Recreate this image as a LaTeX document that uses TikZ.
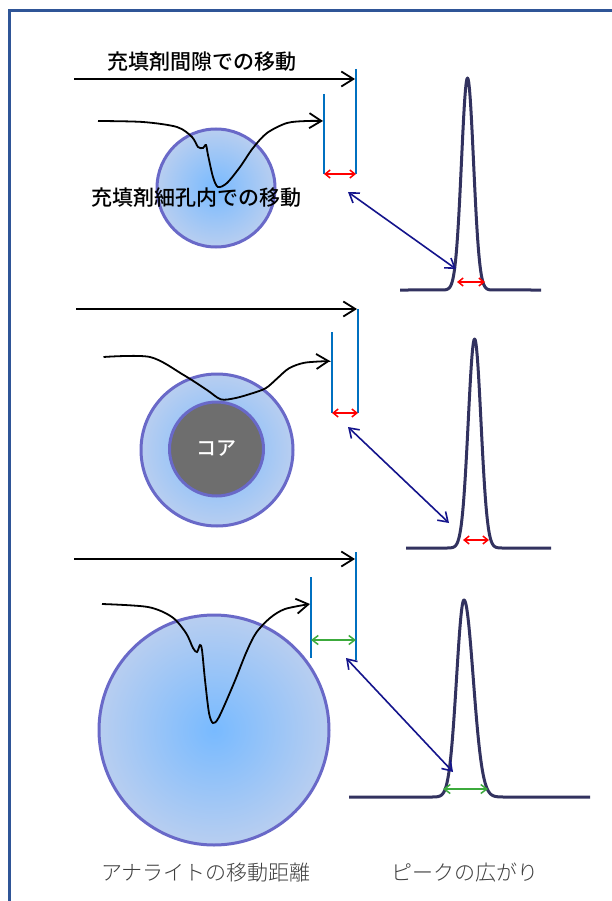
\documentclass[tikz,border=0pt]{standalone}
\usepackage{fontspec}
\newfontfamily\jpfont{Noto Sans CJK JP}
\newfontfamily\jpmid{Noto Sans CJK JP Medium}
\newfontfamily\jplight{Noto Sans CJK JP Light}
\usetikzlibrary{arrows.meta}

\definecolor{framecol}{RGB}{47,85,151}
\definecolor{barcol}{RGB}{0,112,192}
\definecolor{ringcol}{RGB}{105,105,200}
\definecolor{navycol}{RGB}{20,20,140}
\definecolor{peakcol}{RGB}{50,50,95}
\definecolor{greencol}{RGB}{60,170,60}
\definecolor{labelcol}{RGB}{62,62,62}

\begin{document}
\begin{tikzpicture}[
    x=1pt, y=-1pt,
    font=\jpfont\fontsize{21}{24}\selectfont,
    line/.style={-{Straight Barb[length=12pt,width=15pt]}, line width=1.8pt},
    route/.style={line},
    bar/.style={draw=barcol, line width=1.8pt},
    redwidth/.style={{Straight Barb[length=5pt,width=8pt]}-{Straight Barb[length=5pt,width=8pt]}, draw=red, line width=1.5pt},
    greenwidth/.style={{Straight Barb[length=6pt,width=9pt]}-{Straight Barb[length=6pt,width=9pt]}, draw=greencol, line width=1.5pt},
    link/.style={{Straight Barb[length=9pt,width=12pt]}-{Straight Barb[length=9pt,width=12pt]}, draw=navycol, line width=1.6pt},
    peak/.style={draw=peakcol, line width=3pt, line join=round},
    particle/.style={
        circle, draw=ringcol, line width=3pt,
        inner color={rgb,255:red,120;green,186;blue,255},
        outer color={rgb,255:red,184;green,206;blue,240}
    },
    corenode/.style={
        circle, draw=ringcol, line width=3pt,
        fill={rgb,255:red,110;green,110;blue,110},
        text=white, font=\jpmid\fontsize{20}{22}\selectfont
    },
    caption/.style={font=\jpmid\fontsize{21}{24}\selectfont},
    label/.style={text=labelcol, font=\jplight\fontsize{21}{24}\selectfont}
]
\clip (0,0) rectangle (612,901);
\fill[white] (0,0) rectangle (612,901);
\draw[framecol, line width=3pt] (9.5,10.5) rectangle (700,1000);

% Particles
\node[particle, minimum size=118pt] (p1) at (216,188) {};
\node[particle, minimum size=152pt] (p2) at (217,450) {};
\node[corenode, minimum size=94pt] (core) at (216.5,449) {コア};
\node[particle, minimum size=230pt] (p3) at (214,730) {};

% Flow between particles
\coordinate (a1s) at (74,79);   \coordinate (a1e) at (355,79);
\coordinate (a2s) at (76,309);  \coordinate (a2e) at (357,309);
\coordinate (a3s) at (74,559);  \coordinate (a3e) at (355,559);
\draw[line] (a1s) -- (a1e);
\draw[line] (a2s) -- (a2e);
\draw[line] (a3s) -- (a3e);

% Blue bars
\coordinate (l1t) at (356,69);  \coordinate (l1b) at (356,174);
\coordinate (s1t) at (324,94);  \coordinate (s1b) at (324,174);
\coordinate (l2t) at (358,309); \coordinate (l2b) at (358,413);
\coordinate (s2t) at (332,332); \coordinate (s2b) at (332,413);
\coordinate (l3t) at (356,552); \coordinate (l3b) at (356,660);
\coordinate (s3t) at (311,577); \coordinate (s3b) at (311,658);
\draw[bar] (l1t) -- (l1b);
\draw[bar] (s1t) -- (s1b);
\draw[bar] (l2t) -- (l2b);
\draw[bar] (s2t) -- (s2b);
\draw[bar] (l3t) -- (l3b);
\draw[bar] (s3t) -- (s3b);

% Flow through pores
\coordinate (r1e) at (323,121);
\coordinate (r2e) at (330,361);
\coordinate (r3e) at (310,604);
\draw[route] plot[smooth, tension=0.5] coordinates {(98,121) (143,122) (177,127) (192,137) (198,147) (203,148) (206,145) (208,155) (213,177) (218,187) (227,183) (240,167) (253,148) (267,133) (287,123) (307,121) (r1e)};
\draw[route] plot[smooth, tension=0.5] coordinates {(103.5,357) (150,357) (183.6,375) (207,390) (220.7,399.3) (234.4,398.3) (250,394) (265.6,388.3) (277.3,378.3) (289,368.3) (304.7,362.7) (r2e)};
\draw[route] plot[smooth, tension=0.5] coordinates {(102,604) (148,607) (172,617) (186,633) (193,648) (197,652) (200,645) (202,650) (205,680) (209,713) (213,723) (219,717) (234,683) (246,653) (256,633) (270,618) (285,609) (r3e)};

% Texts
\node[caption] (t1) at (202,62) {充填剤間隙での移動};
\node[caption] (t2) at (196,198) {充填剤細孔内での移動};

% Width arrows between bars
\draw[redwidth] (s1b) -- (l1b);
\draw[redwidth] (s2b) -- (l2b);
\coordinate (g3a) at (311,640); \coordinate (g3b) at (356,640);
\draw[greenwidth] (g3a) -- (g3b);

% Peaks
\draw[peak] (400,290) -- plot[domain=427.5:507.5, samples=121] (\x, {290-212*exp(-((\x-467.5)/8.5)^2)}) -- (541,290);
\draw[peak] (406,548) -- plot[domain=434.6:514.6, samples=121] (\x, {548-209*exp(-((\x-474.6)/9)^2)}) -- (551,548);
\draw[peak] (349,797) -- plot[domain=414:464, samples=80] (\x, {797-197*exp(-((\x-464)/10.5)^2)})
    -- plot[domain=464:524, samples=90] (\x, {797-197*exp(-((\x-464)/13)^2)}) -- (590,797);

% Peak widths
\coordinate (w1a) at (457,282); \coordinate (w1b) at (485,282);
\coordinate (w2a) at (463,540); \coordinate (w2b) at (489,540);
\coordinate (w3a) at (443,789); \coordinate (w3b) at (488,789);
\draw[redwidth] (w1a) -- (w1b);
\draw[redwidth] (w2a) -- (w2b);
\draw[greenwidth] (w3a) -- (w3b);

% Links to peaks
\coordinate (k1a) at (348,192); \coordinate (k1b) at (456,269);
\coordinate (k2a) at (348,427); \coordinate (k2b) at (449,523);
\coordinate (k3a) at (346,658); \coordinate (k3b) at (453,772);
\draw[link] (k1a) -- (k1b);
\draw[link] (k2a) -- (k2b);
\draw[link] (k3a) -- (k3b);

% Bottom labels
\node[label] (lab1) at (206,873) {アナライトの移動距離};
\node[label] (lab2) at (465,873) {ピークの広がり};

\end{tikzpicture}
\end{document}
